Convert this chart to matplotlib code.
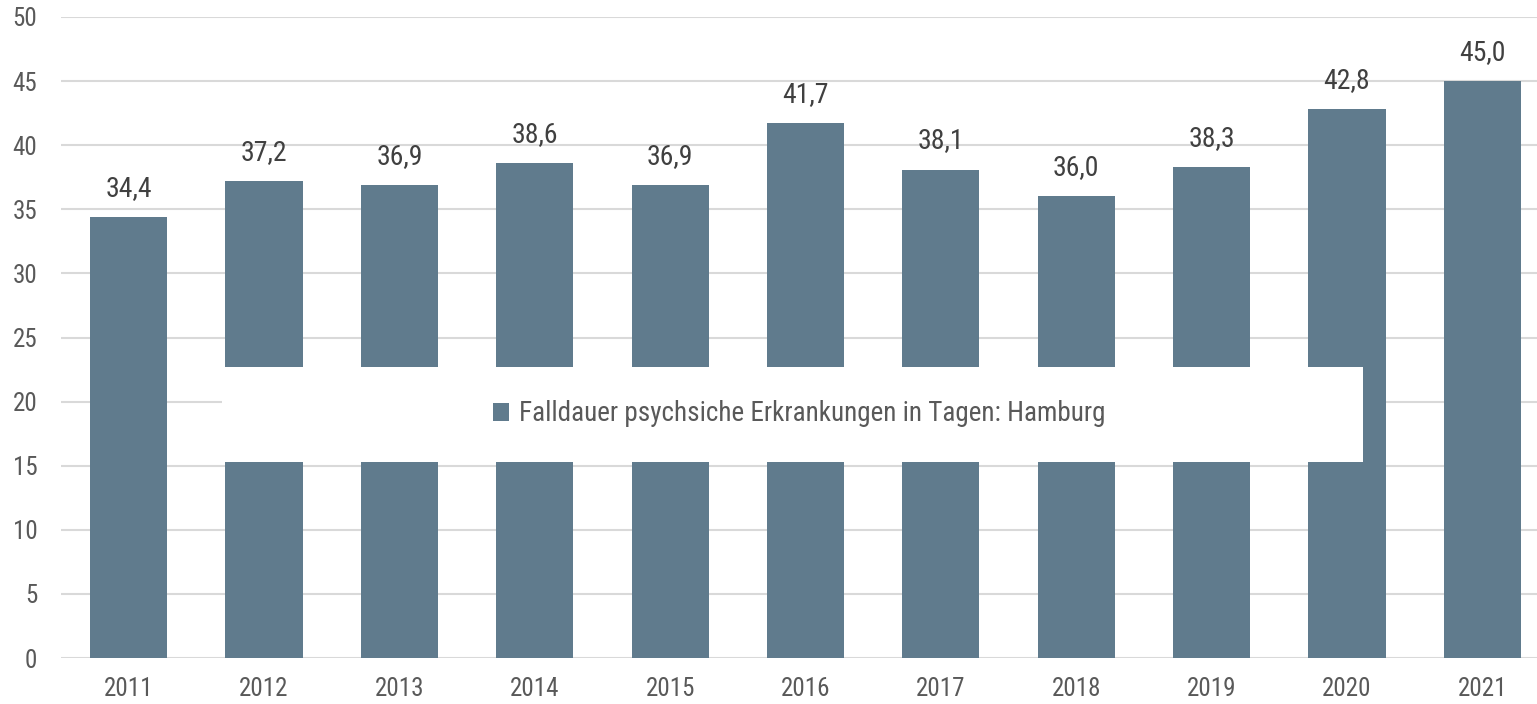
import matplotlib
matplotlib.use("Agg")
import matplotlib.pyplot as plt
from matplotlib import font_manager
from matplotlib.patches import Rectangle, Patch

names = sorted({f.name for f in font_manager.fontManager.ttflist})
chosen = None
for cand in ["Liberation Sans Narrow", "Arial Narrow", "Roboto Condensed", "Open Sans Condensed",
             "Noto Sans Condensed", "DejaVu Sans Condensed"]:
    if cand in names:
        chosen = cand
        break
if chosen is None:
    for n in names:
        if "Narrow" in n or "Condensed" in n:
            chosen = n
            break
if chosen is None:
    chosen = "Liberation Sans"
plt.rcParams['font.family'] = [chosen, 'DejaVu Sans']
plt.rcParams['font.stretch'] = 'condensed'

years = ["2011", "2012", "2013", "2014", "2015", "2016", "2017", "2018", "2019", "2020", "2021"]
values = [34.4, 37.2, 36.9, 38.6, 36.9, 41.7, 38.1, 36.0, 38.3, 42.8, 45.0]
series_name = "Falldauer psychsiche Erkrankungen in Tagen: Hamburg"
yticks = [0, 5, 10, 15, 20, 25, 30, 35, 40, 45, 50]

bar_color = "#607b8d"
W, H = 1537, 704
fig = plt.figure(figsize=(W / 100, H / 100), dpi=100)
ax = fig.add_axes([61 / W, 1 - 658 / H, (1550 - 61) / W, (658 - 17) / H])

x = list(range(len(years)))
ax.bar(x, values, width=0.57, color=bar_color, zorder=2)
for xi, v in zip(x, values):
    ax.annotate(f"{v:.1f}".replace('.', ','), (xi, v), xytext=(0, 11),
                textcoords="offset points", ha="center", va="bottom",
                fontsize=20, color="#404040")

ax.set_xlim(-0.5, len(years) - 0.5)
ax.set_ylim(0, 50)
ax.set_yticks(yticks)
ax.set_yticklabels([str(t) for t in yticks])
ax.set_xticks(x)
ax.set_xticklabels(years)
ax.tick_params(axis='both', length=0, labelsize=18, labelcolor="#595959")
ax.tick_params(axis='y', pad=17)
ax.tick_params(axis='x', pad=14)
ax.grid(axis='y', color="#d9d9d9", linewidth=1.5, zorder=0)
ax.set_axisbelow(True)
for s in ax.spines.values():
    s.set_visible(False)

# legend box (white) in the middle of the plot
box = Rectangle((222 / W, 1 - 462 / H), (1363 - 222) / W, (462 - 367) / H,
                transform=fig.transFigure, facecolor="white", edgecolor="none", zorder=5)
fig.patches.append(box)
leg = fig.legend(handles=[Patch(facecolor=bar_color, label=series_name)],
                 loc="center", bbox_to_anchor=(799 / W, 1 - 414 / H),
                 frameon=False, fontsize=19.5, handlelength=0.6, handleheight=0.6,
                 handletextpad=0.35, labelcolor="#595959")
leg.set_zorder(6)

fig.savefig("out.png", dpi=100)
